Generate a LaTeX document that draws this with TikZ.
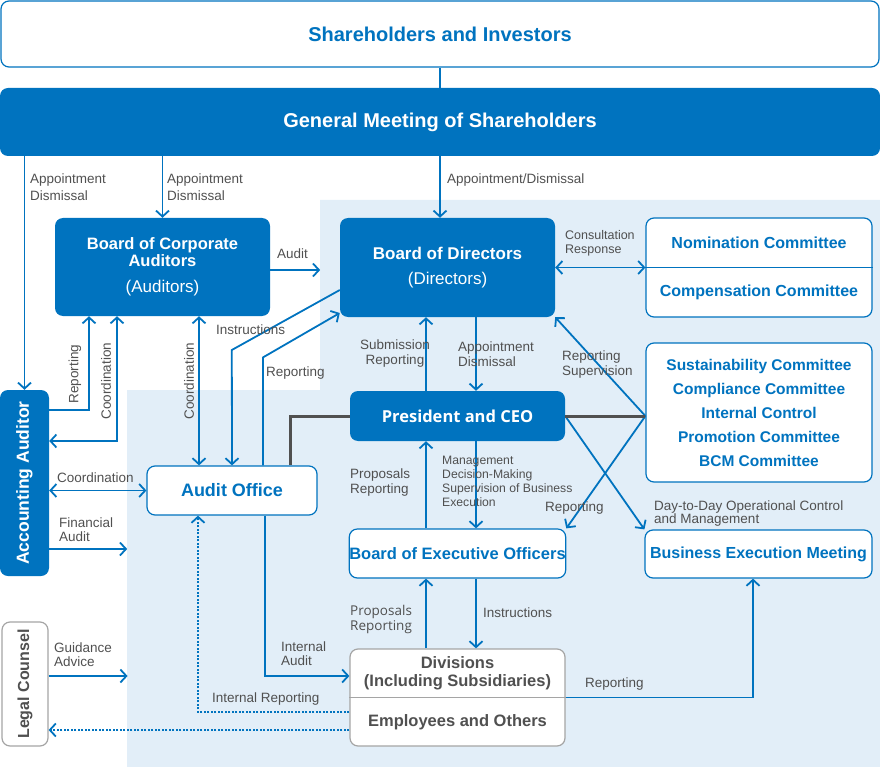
\documentclass[tikz,border=0pt]{standalone}
\usepackage{fontspec}
\setmainfont{Liberation Sans}
\newfontfamily\opensans{Open Sans}
\usepackage{tikz}
\usetikzlibrary{arrows.meta, positioning, calc}
\definecolor{corpblue}{HTML}{0073BF}
\definecolor{lightbg}{HTML}{E2EEF8}
\definecolor{labelgray}{HTML}{505050}
\definecolor{boxgray}{HTML}{A5A5A5}
\definecolor{linegray}{HTML}{505050}

\tikzset{
  bluebox/.style={fill=corpblue, text=white, rounded corners=8pt, inner sep=0pt, align=center},
  whitebox/.style={draw=corpblue, line width=1.2pt, fill=white, text=corpblue, rounded corners=8pt, inner sep=0pt, align=center},
  graybox/.style={draw=boxgray, line width=1.2pt, fill=white, text=labelgray, rounded corners=8pt, inner sep=0pt, align=center},
  lbl/.style={text=labelgray, inner sep=0pt, align=left, anchor=west, font=\fontsize{13.5}{15}\selectfont},
  lblsm/.style={lbl, font=\fontsize{12.5}{14}\selectfont},
  conn/.style={draw=corpblue, line width=1.8pt, -{Straight Barb[length=6pt,width=13pt]}},
  biconn/.style={conn, {Straight Barb[length=6pt,width=13pt]}-{Straight Barb[length=6pt,width=13pt]}},
  dotconn/.style={conn, dash pattern=on 2pt off 1.5pt},
  ceoline/.style={draw=linegray, line width=3pt},
}

\begin{document}
\begin{tikzpicture}[x=1pt, y=-1pt]
  \useasboundingbox (0,0) rectangle (880,767);

  % Light background behind the execution side
  \fill[lightbg] (320,200) -- (880,200) -- (880,767) -- (127,767) -- (127,390) -- (320,390) -- cycle;

  % Top boxes
  \node[whitebox, minimum width=878, minimum height=66, font=\fontsize{20}{24}\selectfont\bfseries] (share) at (440,34) {Shareholders and Investors};
  \node[bluebox, minimum width=880, minimum height=68, font=\fontsize{20}{24}\selectfont\bfseries] (gms) at (440,122) {General Meeting of Shareholders};
  \draw[corpblue, line width=1.6pt] (share.south) -- (gms.north);

  % Boards
  \node[bluebox, minimum width=215, minimum height=98, font=\fontsize{16.5}{17}\selectfont\bfseries] (bca) at (162.5,267) {Board of Corporate\\Auditors\\[9pt]{\mdseries\fontsize{17}{17}\selectfont (Auditors)}};
  \node[bluebox, minimum width=215, minimum height=99, font=\fontsize{17}{25}\selectfont\bfseries] (bod) at (447.5,267.5) {Board of Directors\\{\mdseries (Directors)}};

  % Committees
  \node[whitebox, minimum width=226, minimum height=99] (comm) at (759,267.5) {};
  \draw[corpblue, line width=1.2pt] (comm.west) -- (comm.east);
  \node[text=corpblue, font=\fontsize{16}{18}\selectfont\bfseries] (nomi) at (759,243) {Nomination Committee};
  \node[text=corpblue, font=\fontsize{16}{18}\selectfont\bfseries] (comp) at (759,292) {Compensation Committee};
  \node[whitebox, minimum width=226, minimum height=139, font=\fontsize{15.5}{24}\selectfont\bfseries] (sus) at (759,412.5) {Sustainability Committee\\Compliance Committee\\Internal Control\\Promotion Committee\\BCM Committee};

  % Execution side
  \node[bluebox, minimum width=215, minimum height=50, font=\opensans\fontsize{16.5}{18}\selectfont\bfseries] (pres) at (457.5,416) {President and CEO};
  \node[whitebox, minimum width=215, minimum height=49, font=\fontsize{16.5}{18}\selectfont\bfseries] (beo) at (457.5,553.5) {Board of Executive Officers};
  \node[whitebox, minimum width=227, minimum height=48, font=\fontsize{16}{18}\selectfont\bfseries] (bem) at (758.5,554) {Business Execution Meeting};
  \node[whitebox, minimum width=170, minimum height=49, font=\fontsize{18}{20}\selectfont\bfseries] (aud) at (232,490.5) {Audit Office};
  \node[graybox, minimum width=215, minimum height=97] (div) at (457.5,697.5) {};
  \draw[boxgray, line width=1.2pt] (div.west) -- (div.east);
  \node[text=labelgray, align=center, font=\fontsize{16.5}{18}\selectfont\bfseries] (divtop) at (457.5,673) {Divisions\\(Including Subsidiaries)};
  \node[text=labelgray, font=\fontsize{16.5}{18}\selectfont\bfseries] (divbot) at (457.5,722) {Employees and Others};

  % Left column
  \node[bluebox, minimum width=49, minimum height=186] (acc) at (24.5,483) {};
  \node[rotate=90, text=white, font=\fontsize{17.5}{18}\selectfont\bfseries] (acctext) at (acc.center) {Accounting Auditor};
  \node[graybox, minimum width=46, minimum height=124] (legal) at (25,684) {};
  \node[rotate=90, text=labelgray, font=\fontsize{16}{18}\selectfont\bfseries] (legaltext) at (legal.center) {Legal Counsel};

  % Appointment lines from the general meeting
  \draw[conn] (acc.north |- gms.south) -- (acc.north);
  \draw[conn] (bca.north |- gms.south) -- (bca.north);
  \draw[conn] (gms.south) -- (gms.south |- bod.north);
  \node[lbl] (l-apacc) at (30,187) {Appointment\\[2pt]Dismissal};
  \node[lbl] (l-apbca) at (167,187) {Appointment\\[2pt]Dismissal};
  \node[lbl] (l-apbod) at (447,180) {Appointment/Dismissal};

  % Auditors
  \draw[conn] ([yshift=-3pt]bca.east) -- ++(50,0);
  \node[lbl] (l-audit) at (277,254) {Audit};
  \draw[conn] ([yshift=73pt]acc.east) -| ([xshift=-73.5pt]bca.south);
  \draw[biconn] ([xshift=-45.5pt]bca.south) |- ([yshift=42pt]acc.east);
  \draw[biconn] ([xshift=36.5pt]bca.south) -- ([xshift=36.5pt]bca.south |- aud.north);
  \node[lbl, rotate=90, anchor=center] (l-repacc) at (75,374) {Reporting};
  \node[lbl, rotate=90, anchor=center] (l-cooacc) at (106,381) {Coordination};
  \node[lbl, rotate=90, anchor=center] (l-cooaud) at (189,381) {Coordination};

  % Audit office and board of directors
  \draw[conn] ([yshift=-22.5pt]bod.west) -- ++(-108,60) -- (aud.north);
  \draw[conn] ([xshift=31pt]aud.north) -- ++(0,-108) -- ([yshift=-45.5pt]bod.west);
  \node[lbl] (l-instr) at (216,330) {Instructions};
  \node[lbl] (l-repaud) at (266,373) {Reporting};

  % Accounting auditor and legal counsel
  \draw[biconn] (acc.east |- aud.west) -- (aud.west);
  \draw[conn] ([yshift=-66pt]acc.east) -- ++(78,0);
  \draw[conn] ([yshift=8pt]legal.east) -- ++(79,0);
  \node[lbl] (l-coord) at (57,478) {Coordination};
  \node[lbl, font=\fontsize{13.5}{14}\selectfont] (l-fin) at (59,530) {Financial\\Audit};
  \node[lbl, font=\fontsize{13.5}{14}\selectfont] (l-guide) at (54,655) {Guidance\\Advice};

  % Committees
  \coordinate (hub) at (sus.west |- pres.east);
  \draw[biconn] (bod.east) -- (comm.west);
  \draw[conn] (hub) -- (bod.south east);
  \draw[conn] (hub) -- (beo.north east);
  \draw[conn] (pres.east) -- (bem.north west);
  \node[lblsm] (l-consult) at (565,243) {Consultation\\Response};
  \node[lbl] (l-repsup) at (562,365) {Reporting\\Supervision};
  \node[lbl] (l-repbeo) at (545,508) {Reporting};
  \node[lbl, font=\fontsize{13.5}{13}\selectfont] (l-daily) at (654,514) {Day-to-Day Operational Control\\and Management};

  % Audit office ties to the president
  \draw[ceoline] ([xshift=58pt]aud.north) |- (pres.west);
  \draw[ceoline] (pres.east) -- (hub);

  % Directors, president and executive officers
  \draw[conn] ([xshift=28.5pt]bod.south) -- ([xshift=28.5pt]bod.south |- pres.north);
  \draw[conn] ([xshift=-21.5pt]bod.south |- pres.north) -- ([xshift=-21.5pt]bod.south);
  \draw[conn] ([xshift=-31.5pt]beo.north) -- ([xshift=-31.5pt]beo.north |- pres.south);
  \draw[conn] ([xshift=18.5pt]pres.south) -- ([xshift=18.5pt]pres.south |- beo.north);
  \draw[conn] ([xshift=-31.5pt]div.north) -- ([xshift=-31.5pt]div.north |- beo.south);
  \draw[conn] ([xshift=18.5pt]beo.south) -- ([xshift=18.5pt]beo.south |- div.north);
  \node[lbl, align=center, anchor=center] (l-submit) at (395,354) {Submission\\Reporting};
  \node[lbl] (l-apceo) at (458,354) {Appointment\\Dismissal};
  \node[lbl] (l-propceo) at (350,483) {Proposals\\Reporting};
  \node[lblsm, font=\fontsize{12.2}{14}\selectfont] (l-manage) at (442,481) {Management\\Decision-Making\\Supervision of Business\\Execution};
  \node[lbl, font=\opensans\fontsize{13.5}{15}\selectfont] (l-propbeo) at (350,619) {Proposals\\Reporting};
  \node[lbl] (l-instbeo) at (483,613) {Instructions};

  % Divisions
  \draw[conn] ([xshift=33pt]aud.south) |- ([yshift=21.5pt]div.west);
  \draw[dotconn] ([yshift=-14.5pt]div.west) -| ([xshift=-34pt]aud.south);
  \draw[dotconn] ([yshift=-32.5pt]div.west) -- ([yshift=-32.5pt]div.west -| legal.east);
  \draw[conn] (div.east) -| ([xshift=-5.5pt]bem.south);
  \node[lbl, font=\fontsize{13.5}{14}\selectfont] (l-intaud) at (281,654) {Internal\\Audit};
  \node[lbl] (l-intrep) at (212,699) {Internal Reporting};
  \node[lbl] (l-repdiv) at (585,684) {Reporting};
\end{tikzpicture}
\end{document}
